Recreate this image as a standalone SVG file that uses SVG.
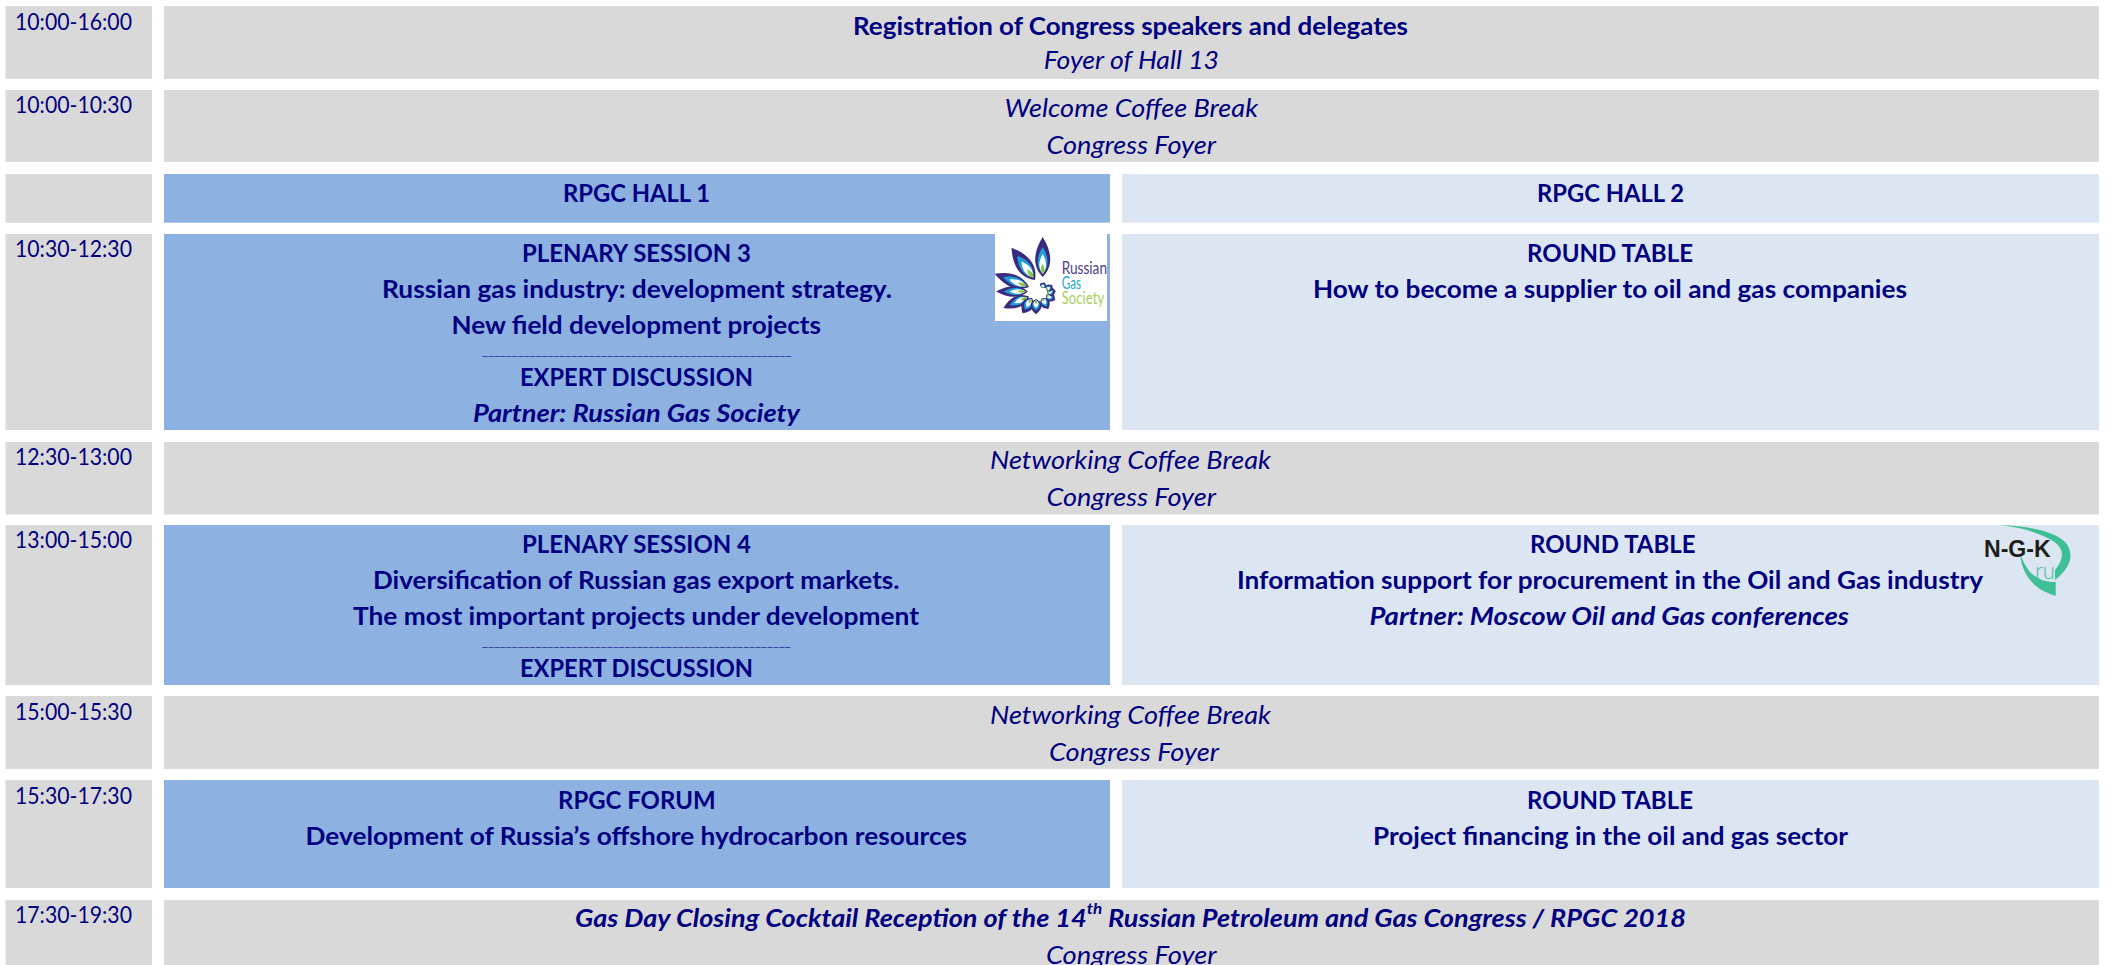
<svg xmlns="http://www.w3.org/2000/svg" xmlns:xlink="http://www.w3.org/1999/xlink" width="2107" height="965" viewBox="0 0 2107 965">
<style>
.g{fill:#d9d9d9}.b{fill:#8db1e1}.l{fill:#dce6f2}
text{fill:#000080;font-family:"Lato","Carlito","Liberation Sans",sans-serif;font-size:25.500px}
.t{font-size:23.500px}
.h{font-weight:700}
.i{font-style:italic}
.hi{font-weight:700;font-style:italic}
.r{font-size:10px}
.dk{fill:#3a2a80}.bl{fill:#1f9fd8}.wh{fill:#fff}.gr{fill:#8fc640}
</style>
<defs>
<g id="petal">
<path class="dk" d="M0 0C-10 -10 -10 -24 0 -40C10 -24 10 -10 0 0Z"/>
<path class="bl" d="M0 -3C-6.500 -10 -6.500 -20 0 -30C6.500 -20 6.500 -10 0 -3Z"/>
<path class="wh" d="M0 -3C-4.500 -9 -4.500 -15 0 -23C4.500 -15 4.500 -9 0 -3Z"/>
<path class="gr" d="M0 -3C-2.500 -6 -2.500 -9 0 -13C2.500 -9 2.500 -6 0 -3Z"/>
</g>
</defs>
<rect width="2107" height="965" fill="#fff"/>
<g id="row-registration">
<rect class="g" x="5.500" y="6" width="146.500" height="73"/><rect class="g" x="164" y="6" width="1935" height="73"/>
<text class="t" x="15" y="30" textLength="117" lengthAdjust="spacingAndGlyphs">10:00-16:00</text>
<text class="h" x="853" y="35" textLength="555" lengthAdjust="spacingAndGlyphs">Registration of Congress speakers and delegates</text>
<text class="i" x="1043.700" y="69.300" textLength="175.300" lengthAdjust="spacingAndGlyphs">Foyer of Hall 13</text>
</g>
<g id="row-welcome">
<rect class="g" x="5.500" y="90" width="146.500" height="72"/><rect class="g" x="164" y="90" width="1935" height="72"/>
<text class="t" x="15" y="113.300" textLength="117" lengthAdjust="spacingAndGlyphs">10:00-10:30</text>
<text class="i" x="1004.500" y="117.300" textLength="253.500" lengthAdjust="spacingAndGlyphs">Welcome Coffee Break</text>
<text class="i" x="1046.500" y="154" textLength="169.500" lengthAdjust="spacingAndGlyphs">Congress Foyer</text>
</g>
<g id="row-halls">
<rect class="g" x="5.500" y="174" width="146.500" height="48.700"/>
<rect class="b" x="164" y="174" width="946" height="48.700"/>
<rect class="l" x="1122" y="174" width="977" height="48.700"/>
<text class="h" x="563" y="201.700" textLength="147" lengthAdjust="spacingAndGlyphs">RPGC HALL 1</text>
<text class="h" x="1537" y="201.700" textLength="147" lengthAdjust="spacingAndGlyphs">RPGC HALL 2</text>
</g>
<g id="row-1030">
<rect class="g" x="5.500" y="234" width="146.500" height="196"/>
<rect class="b" x="164" y="234" width="946" height="196"/>
<rect class="l" x="1122" y="234" width="977" height="196"/>
<text class="t" x="15" y="257" textLength="117" lengthAdjust="spacingAndGlyphs">10:30-12:30</text>
<text class="h" x="522" y="261.700" textLength="229" lengthAdjust="spacingAndGlyphs">PLENARY SESSION 3</text>
<text class="h" x="382" y="298" textLength="510" lengthAdjust="spacingAndGlyphs">Russian gas industry: development strategy.</text>
<text class="h" x="451.500" y="334.300" textLength="369.500" lengthAdjust="spacingAndGlyphs">New field development projects</text>
<text class="r" x="482" y="355" textLength="309.400" lengthAdjust="spacingAndGlyphs">____________________________________________________</text>
<text class="h" x="520" y="385.700" textLength="233" lengthAdjust="spacingAndGlyphs">EXPERT DISCUSSION</text>
<text class="hi" x="473" y="421.700" textLength="327" lengthAdjust="spacingAndGlyphs">Partner: Russian Gas Society</text>
<text class="h" x="1527" y="261.700" textLength="166" lengthAdjust="spacingAndGlyphs">ROUND TABLE</text>
<text class="h" x="1313" y="298" textLength="594" lengthAdjust="spacingAndGlyphs">How to become a supplier to oil and gas companies</text>
</g>
<g id="logo-russian-gas-society">
<rect x="995" y="232" width="112" height="89" fill="#fff"/>
<use xlink:href="#petal" href="#petal" transform="translate(1042.700 277) scale(1 1)"/>
<use xlink:href="#petal" href="#petal" transform="translate(1035 280) rotate(-36) scale(1.05 1)"/>
<use xlink:href="#petal" href="#petal" transform="translate(1029 287) rotate(-69) scale(.85 .92)"/>
<use xlink:href="#petal" href="#petal" transform="translate(1028 291.500) rotate(-90) scale(.7 .8)"/>
<use xlink:href="#petal" href="#petal" transform="translate(1029 296.500) rotate(-114) scale(.75 .7)"/>
<use xlink:href="#petal" href="#petal" transform="translate(1032 298) rotate(-148) scale(.8 .45)"/>
<use xlink:href="#petal" href="#petal" transform="translate(1036 299) rotate(180) scale(.75 .38)"/>
<use xlink:href="#petal" href="#petal" transform="translate(1042 298) rotate(150) scale(.65 .32)"/>
<use xlink:href="#petal" href="#petal" transform="translate(1046 295) rotate(118) scale(.6 .26)"/>
<use xlink:href="#petal" href="#petal" transform="translate(1047 292) rotate(85) scale(.6 .22)"/>
<use xlink:href="#petal" href="#petal" transform="translate(1046 290) rotate(55) scale(.5 .2)"/>
<use xlink:href="#petal" href="#petal" transform="translate(1042 288) rotate(25) scale(.45 .15)"/>
<circle cx="1039" cy="292" r="4" fill="#fff"/>
<text x="1061.700" y="274.300" style="font-size:17px;fill:#4e3d8a" textLength="45.300" lengthAdjust="spacingAndGlyphs">Russian</text>
<text x="1061.700" y="289.300" style="font-size:17px;fill:#29a9d0" textLength="19.500" lengthAdjust="spacingAndGlyphs">Gas</text>
<text x="1061.700" y="304.300" style="font-size:17px;fill:#a9cf60" textLength="42.500" lengthAdjust="spacingAndGlyphs">Society</text>
</g>
<g id="row-networking-1">
<rect class="g" x="5.500" y="442" width="146.500" height="72.500"/><rect class="g" x="164" y="442" width="1935" height="72.500"/>
<text class="t" x="15" y="465" textLength="117" lengthAdjust="spacingAndGlyphs">12:30-13:00</text>
<text class="i" x="990" y="469.300" textLength="281" lengthAdjust="spacingAndGlyphs">Networking Coffee Break</text>
<text class="i" x="1046.500" y="506" textLength="169.500" lengthAdjust="spacingAndGlyphs">Congress Foyer</text>
</g>
<g id="row-1300">
<rect class="g" x="5.500" y="525" width="146.500" height="160"/>
<rect class="b" x="164" y="525" width="946" height="160"/>
<rect class="l" x="1122" y="525" width="977" height="160"/>
<text class="t" x="15" y="548" textLength="117" lengthAdjust="spacingAndGlyphs">13:00-15:00</text>
<text class="h" x="522" y="552.700" textLength="229" lengthAdjust="spacingAndGlyphs">PLENARY SESSION 4</text>
<text class="h" x="373" y="589" textLength="526.500" lengthAdjust="spacingAndGlyphs">Diversification of Russian gas export markets.</text>
<text class="h" x="353" y="625" textLength="566" lengthAdjust="spacingAndGlyphs">The most important projects under development</text>
<text class="r" x="482" y="646" textLength="308.800" lengthAdjust="spacingAndGlyphs">____________________________________________________</text>
<text class="h" x="520" y="676.700" textLength="233" lengthAdjust="spacingAndGlyphs">EXPERT DISCUSSION</text>
<text class="h" x="1530" y="552.700" textLength="165.500" lengthAdjust="spacingAndGlyphs">ROUND TABLE</text>
<text class="h" x="1237" y="589" textLength="746" lengthAdjust="spacingAndGlyphs">Information support for procurement in the Oil and Gas industry</text>
<text class="hi" x="1369.500" y="625" textLength="479.500" lengthAdjust="spacingAndGlyphs">Partner: Moscow Oil and Gas conferences</text>
</g>
<g id="logo-ngk">
<path d="M2000 525C2030 526 2056 532 2066 543C2075 555 2070 568 2055 580L2055 570C2065 558 2064 548 2053 541C2040 533 2020 527 2000 525Z" fill="#3fbf96"/>
<path d="M2020 553.300C2021 566 2026 578 2036 586C2042 591 2049 594 2055.700 595.700L2055.700 581.700C2045 583 2036 578 2030 572C2026 567 2022 560 2020 553.300Z" fill="#3fbf96"/>
<text x="1984" y="557.300" style="font-family:'Liberation Sans',sans-serif;font-weight:700;font-size:23px;fill:#1d1d1b" textLength="66.700" lengthAdjust="spacingAndGlyphs">N-G-K</text>
<text x="2035" y="579.300" style="font-weight:300;font-size:23px;fill:#3fbf96" textLength="20" lengthAdjust="spacingAndGlyphs">ru</text>
</g>
<g id="row-networking-2">
<rect class="g" x="5.500" y="696" width="146.500" height="73"/><rect class="g" x="164" y="696" width="1935" height="73"/>
<text class="t" x="15" y="720" textLength="117" lengthAdjust="spacingAndGlyphs">15:00-15:30</text>
<text class="i" x="990" y="724.300" textLength="281" lengthAdjust="spacingAndGlyphs">Networking Coffee Break</text>
<text class="i" x="1049" y="760.500" textLength="170" lengthAdjust="spacingAndGlyphs">Congress Foyer</text>
</g>
<g id="row-1530">
<rect class="g" x="5.500" y="780" width="146.500" height="108"/>
<rect class="b" x="164" y="780" width="946" height="108"/>
<rect class="l" x="1122" y="780" width="977" height="108"/>
<text class="t" x="15" y="804" textLength="117" lengthAdjust="spacingAndGlyphs">15:30-17:30</text>
<text class="h" x="558" y="809" textLength="157.600" lengthAdjust="spacingAndGlyphs">RPGC FORUM</text>
<text class="h" x="305.500" y="845" textLength="661.500" lengthAdjust="spacingAndGlyphs">Development of Russia’s offshore hydrocarbon resources</text>
<text class="h" x="1527" y="809" textLength="166" lengthAdjust="spacingAndGlyphs">ROUND TABLE</text>
<text class="h" x="1373" y="845" textLength="475" lengthAdjust="spacingAndGlyphs">Project financing in the oil and gas sector</text>
</g>
<g id="row-closing">
<rect class="g" x="5.500" y="900" width="146.500" height="65"/><rect class="g" x="164" y="900" width="1935" height="65"/>
<text class="t" x="15" y="923" textLength="117" lengthAdjust="spacingAndGlyphs">17:30-19:30</text>
<text class="hi" x="575" y="926.700" textLength="1111" lengthAdjust="spacingAndGlyphs">Gas Day Closing Cocktail Reception of the 14<tspan dy="-13" style="font-size:16px">th</tspan><tspan dy="13"> Russian Petroleum and Gas Congress / RPGC 2018</tspan></text>
<text class="i" x="1046" y="964" textLength="170.700" lengthAdjust="spacingAndGlyphs">Congress Foyer</text>
</g>
</svg>
